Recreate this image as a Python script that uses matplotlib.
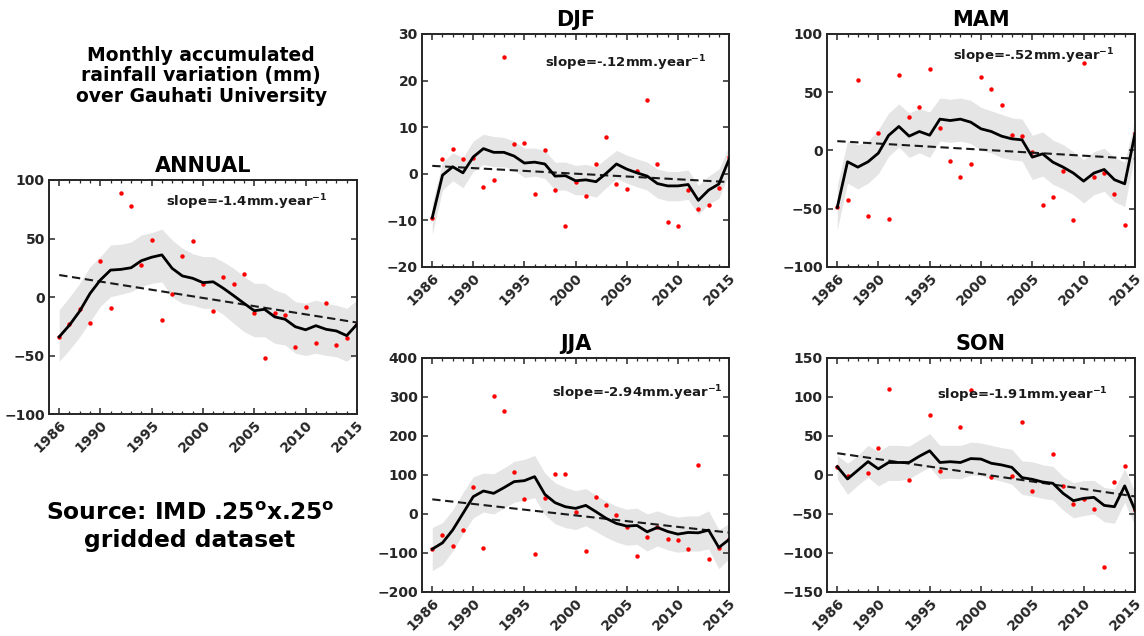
import matplotlib
matplotlib.use('Agg')
import matplotlib.pyplot as plt
import numpy as np

plt.rcParams['font.family'] = ['DejaVu Sans']
plt.rcParams['font.weight'] = 'bold'
plt.rcParams['mathtext.fontset'] = 'dejavusans'

years = np.arange(1986, 2016)
nan = np.nan

# ANNUAL
annual_pts = [-34, -23, -10.5, -22.5, 31, -9, 88.6, 78, 27, 48.7, -20, 2.3, 35, 48, 11.4,
              -12, 16.8, 11, 19.4, -13.7, -51.8, -13.7, -15, -42.5, -8.3, -39.6, -4.8, -41, -35, -22.8]
annual_line = [-34, -24, -12, 3, 14.5, 23, 23.6, 25, 31, 34, 36, 24.5, 18, 16, 12.3,
               13, 7.4, 1.1, -5.4, -11.7, -10.5, -17, -19, -25.4, -28, -24.5, -27.6, -29, -33, -23.4]
annual_hi = [-11, 0, 11.7, 26, 34.5, 44.5, 45, 47, 53, 55, 58, 48.7, 41.6, 37, 34.5,
             34.5, 30, 24.5, 17.4, 11.7, 11.7, 6, 3, -4, -5.4, -2.6, -5.4, -7, -9.7, -2.6]
annual_lo = [-55, -45, -34, -21, -8, 0.3, 2.3, 4.6, 9, 11.7, 13, 0, -5.4, -7, -9.7,
             -9.7, -15, -22.5, -29.6, -34, -34, -39.6, -41, -48, -50, -48, -50, -51, -55, -48]

# DJF
djf_pts = [-9.4, 3.1, 5.4, 3.2, 3.3, -2.9, -1.4, 25.1, 6.4, 6.5, -4.3, 5.1, -3.5, -11.1, -1.7,
           -4.7, 2.1, 7.9, -2.2, -3.2, 0.6, 15.8, 2.0, -10.4, -11.3, -3.4, -7.5, -6.8, -3.0, 3.5]
djf_line = [-9.4, -0.3, 1.5, 0.2, 3.6, 5.4, 4.6, 4.6, 3.8, 2.3, 2.5, 2.1, -0.5, -0.4, -1.5,
            -1.3, -1.7, 0.1, 2.1, 1.0, 0.2, -0.5, -2.1, -2.6, -2.6, -2.3, -5.7, -3.5, -2.2, 3.1]
djf_hi = [-6.5, 2.5, 4.5, 3.5, 7, 8.5, 8, 7.8, 7, 5.5, 5.5, 5, 2.5, 2.5, 1.8,
          2, 1.5, 3.3, 5, 4, 3.2, 2.5, 1, 0.5, 0.5, 0.8, -2.5, -0.5, 1, 6]
djf_lo = [-13, -3.5, -1.5, -3, 0.5, 2, 1.5, 1.5, 0.8, -0.8, -0.5, -1, -3.5, -3.5, -4.5,
          -4.5, -5, -3, -1, -2, -2.8, -3.5, -5.2, -5.8, -5.8, -5.5, -8.7, -6.5, -5.3, 0]

# MAM
mam_pts = [-48.9, -42.6, 60.9, -56.3, 15.1, -58.9, 64.6, 28.6, 36.9, 70.3, 19.1, -8.9, -22.9, -12, 63.1,
           53.1, 38.9, 13.1, 12.6, -1.1, -46.9, -40, -18, -60, 75.1, -23.1, -19.7, -37.4, -63.7, 15.4]
mam_line = [-48.9, -9.7, -14.3, -9.7, -2.3, 12.9, 20.6, 12.3, 16.3, 13.1, 26.9, 25.7, 26.9, 24.3, 18.6,
            16.3, 12.3, 10, 9.1, -5.7, -2.9, -10, -14.3, -19.4, -26.3, -19.4, -16.3, -25.1, -28.6, 14.3]
mam_hi = [-30, 8, 5, 8, 18, 32, 40, 32, 36, 33, 45, 44, 45, 43, 37,
          34, 31, 28, 27, 13, 16, 9, 5, -1, -8, -1, 2, -6, -10, 27]
mam_lo = [-68, -28, -33, -28, -20, -5, 3, -6, -2, -6, 8, 7, 8, 6, 0,
          -2, -6, -8, -9, -25, -22, -29, -33, -38, -45, -38, -35, -44, -48, -2]

# JJA
jja_pts = [-90.3, -53.4, -82.6, -41.4, 68.3, -86, 301.4, 264.6, 106.9, 38.3, -101.4, 40.9, 102.6, 103.4, 4.9,
           -94.6, 44.3, 23.7, -2, -32.9, -108.3, -59.4, -33.7, -62.9, -68, -90.3, 125.7, -114.3, -86.9, -64.6]
jja_line = [-90, -74, -41, 1.4, 44.3, 58.9, 52.9, 67.4, 82.9, 85.4, 95.7, 50.3, 28.9, 18.6, 14.3,
            22, 5.7, -11.4, -24.3, -31.1, -29.4, -45.7, -34.6, -44.9, -51.7, -47.4, -48.3, -41.4, -86, -65.4]
jja_hi = [-35, -22, 10, 55, 95, 105, 103, 118, 135, 140, 150, 105, 80, 68, 60,
          65, 48, 33, 20, 12, 15, 0, 8, -2, -8, -5, -5, 8, -40, -25]
jja_lo = [-145, -130, -95, -50, -10, 5, 0, 15, 30, 35, 42, -2, -25, -35, -40,
          -30, -45, -60, -72, -80, -78, -95, -82, -92, -98, -95, -95, -90, -140, -115]

# SON (years with no visible dot are nan)
son_pts = [10.7, -1.3, nan, 2.1, 35.1, 110.1, nan, -6.5, nan, 76.7, 5.1, nan, 61.7, 108.9, nan,
           -2.1, nan, -1.3, 68.1, -20.2, nan, 27, -13.7, -36.9, -30.4, -43.7, -118.3, -8.6, 11.1, -45.4]
son_line = [10.7, -5.1, 6, 17.1, 7.8, 16, 16, 16, 24, 31, 16, 17, 16, 21, 20.4,
            15, 12.9, 9.8, -3.4, -5.6, -9, -10.7, -23.6, -33, -30, -28.7, -39, -40.7, -14, -45]
son_hi = [25, 15, 25, 38, 30, 38, 38, 37, 45, 53, 38, 38, 38, 42, 41,
          38, 35, 33, 18, 17, 13, 11, -2, -10, -7, -7, -16, -18, 8, -22]
son_lo = [-5, -25, -13, -3, -14, -7, -7, -5, 3, 10, -5, -4, -5, 0, -1,
          -5, -8, -12, -25, -27, -30, -32, -45, -55, -52, -50, -60, -62, -35, -65]

# trend: value at 1986 and slope (mm/year)
trend_start = {'ANNUAL': 18.8, 'DJF': 1.7, 'MAM': 8, 'JJA': 37.5, 'SON': 27.9}
trend_slope = {'ANNUAL': -1.4, 'DJF': -0.12, 'MAM': -0.52, 'JJA': -2.94, 'SON': -1.91}
slope_labels = {'ANNUAL': '-1.4', 'DJF': '-.12', 'MAM': '-.52', 'JJA': '-2.94', 'SON': '-1.91'}

panels = [
    # name, points, line, hi, lo, ylim, ystep, axes rect, slope text pos
    ('ANNUAL', annual_pts, annual_line, annual_hi, annual_lo, (-100, 100), 50,
     [0.0428, 0.349, 0.2692, 0.368], (0.38, 0.906)),
    ('DJF', djf_pts, djf_line, djf_hi, djf_lo, (-20, 30), 10,
     [0.3689, 0.5802, 0.2684, 0.3664], (0.40, 0.876)),
    ('MAM', mam_pts, mam_line, mam_hi, mam_lo, (-100, 100), 50,
     [0.7229, 0.5802, 0.2692, 0.3664], (0.409, 0.906)),
    ('JJA', jja_pts, jja_line, jja_hi, jja_lo, (-200, 400), 100,
     [0.3689, 0.0692, 0.2684, 0.368], (0.423, 0.85)),
    ('SON', son_pts, son_line, son_hi, son_lo, (-150, 150), 50,
     [0.7229, 0.0692, 0.2692, 0.368], (0.357, 0.842)),
]

axis_col = '#262626'

fig = plt.figure(figsize=(11.44, 6.36), dpi=100)

for name, pts, line, hi, lo, ylim, ystep, rect, tpos in panels:
    ax = fig.add_axes(rect)
    ax.fill_between(years, lo, hi, color='#e5e5e5', linewidth=0, zorder=1)
    ax.plot(years, pts, 'o', color='red', markersize=3.2, markeredgewidth=0, zorder=2)
    trend = trend_start[name] + trend_slope[name] * (years - years[0])
    ax.plot(years, trend, '--', color='#1a1a1a', linewidth=1.5, dashes=(4, 2.2), zorder=3)
    ax.plot(years, line, '-', color='black', linewidth=2.0, zorder=4)

    ax.set_xlim(1985, 2015)
    ax.set_ylim(*ylim)
    ax.set_xticks([1986, 1990, 1995, 2000, 2005, 2010, 2015])
    ax.set_xticks(years, minor=True)
    ax.set_yticks(np.arange(ylim[0], ylim[1] + 1, ystep))
    ax.tick_params(direction='in', top=True, right=True, length=4, width=1.1,
                   color=axis_col, labelcolor=axis_col, labelsize=10, pad=3)
    ax.tick_params(which='minor', direction='in', top=True, bottom=True, length=2.5, width=0.9,
                   color=axis_col)
    for lab in ax.get_xticklabels():
        lab.set_rotation(45)
        lab.set_ha('right')
        lab.set_rotation_mode('anchor')
        lab.set_fontweight('bold')
    for lab in ax.get_yticklabels():
        lab.set_fontweight('bold')
    for sp in ax.spines.values():
        sp.set_color(axis_col)
        sp.set_linewidth(1.4)

    ax.set_title(name, fontsize=15, fontweight='bold', pad=6)
    ax.text(tpos[0], tpos[1], 'slope=' + slope_labels[name] + r'mm.year$^{\mathbf{-1}}$',
            transform=ax.transAxes, fontsize=9.5, fontweight='bold', color='#1a1a1a',
            va='center', ha='left', zorder=5)

fig.text(0.176, 0.881, 'Monthly accumulated\nrainfall variation (mm)\nover Gauhati University',
         ha='center', va='center', fontsize=13.5, fontweight='bold', linespacing=1.1)
fig.text(0.166, 0.171, 'Source: IMD .25$^\\mathbf{o}$x.25$^\\mathbf{o}$\ngridded dataset',
         ha='center', va='center', fontsize=16.8, fontweight='bold', linespacing=1.2)

plt.savefig('out.png', dpi=100)
